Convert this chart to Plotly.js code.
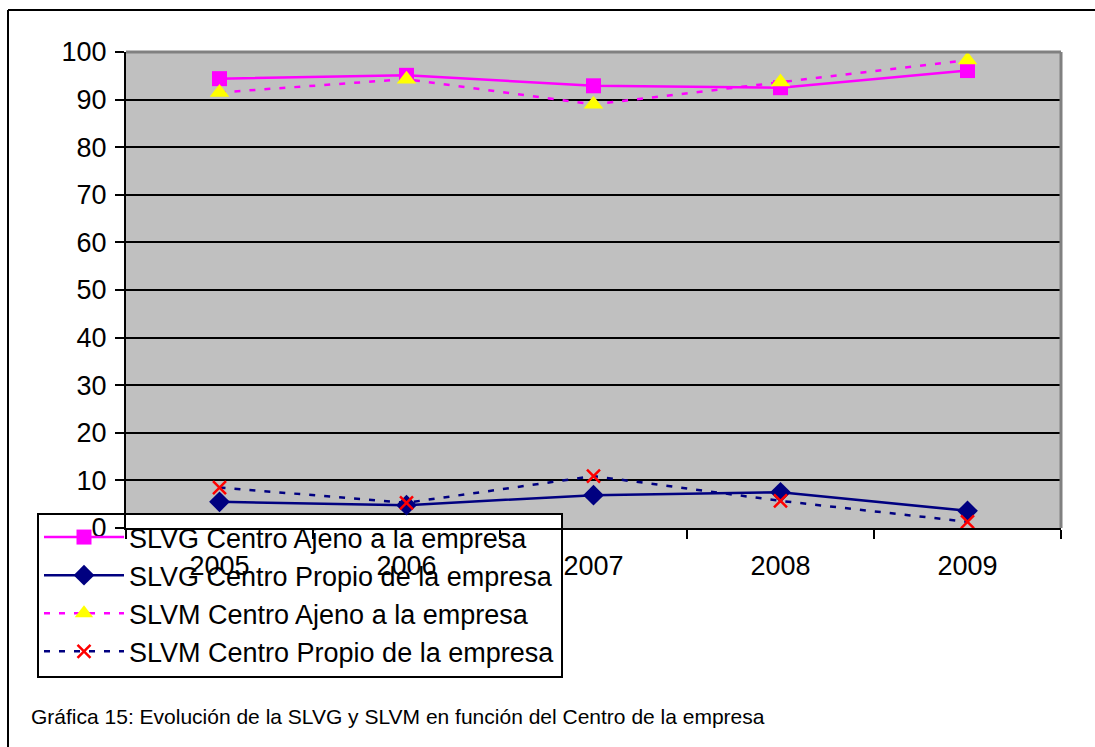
<!DOCTYPE html>
<html>
<head>
<meta charset="utf-8">
<script src="https://cdn.plot.ly/plotly-3.0.1.min.js"></script>
<style>
html,body{margin:0;padding:0;background:#fff;}
#chart{width:1095px;height:747px;}
</style>
</head>
<body>
<div id="chart"></div>
<script>
const years = ['2005', '2006', '2007', '2008', '2009'];
const slvgAjeno = [94.4, 95.1, 92.9, 92.5, 96.1];
const slvgPropio = [5.5, 4.8, 6.9, 7.5, 3.6];
const slvmAjeno = [91.5, 94.3, 89.0, 93.7, 98.3];
const slvmPropio = [8.5, 5.3, 10.9, 5.7, 1.3];
const yTicks = [0, 10, 20, 30, 40, 50, 60, 70, 80, 90, 100];
const caption = 'Gráfica 15: Evolución de la SLVG y SLVM en función del Centro de la empresa';

const FONT = 'Liberation Sans, Arial, sans-serif';
const dash = '6px,9px';

const traces = [
  {x: years, y: slvgAjeno, name: 'SLVG Centro Ajeno a la empresa', mode: 'lines+markers',
   line: {color: '#FF00FF', width: 2.5},
   marker: {symbol: 'square', size: 15, color: '#FF00FF'}, legendgroup: 'a'},
  {x: years, y: slvgPropio, name: 'SLVG Centro Propio de la empresa', mode: 'lines+markers',
   line: {color: '#000080', width: 2.5},
   marker: {symbol: 'diamond', size: 16, color: '#000080'}, legendgroup: 'b'},
  {x: years, y: slvmAjeno, name: 'SLVM Centro Ajeno a la empresa', mode: 'lines+markers',
   line: {color: '#FF00FF', width: 2.5, dash: dash},
   marker: {symbol: 'triangle-up', size: 17, color: '#FFFF00'}, legendgroup: 'c'},
  {x: years, y: slvmPropio, name: 'SLVM Centro Propio de la empresa', mode: 'lines+markers',
   line: {color: '#000080', width: 2.5, dash: dash},
   marker: {symbol: 'x-thin', size: 13, color: '#FF0000', line: {color: '#FF0000', width: 2.5}}, legendgroup: 'd'}
];

const L = 126, R = 1061, T = 52, B = 528;
const W = R - L, H = B - T;
const px = v => (v - L) / W;
const py = v => (B - v) / H;

const layout = {
  width: 1095, height: 747,
  margin: {l: L, r: 1095 - R, t: T, b: 747 - B, pad: 0},
  paper_bgcolor: '#FFFFFF',
  plot_bgcolor: '#C0C0C0',
  font: {family: FONT, color: '#000'},
  showlegend: true,
  xaxis: {
    type: 'category', range: [-0.5, 4.5],
    tickson: 'boundaries', ticks: 'outside', ticklen: 9, tickwidth: 2, tickcolor: '#000',
    showline: true, linecolor: '#000', linewidth: 2,
    showgrid: false, zeroline: false,
    tickfont: {family: FONT, size: 27, color: '#000'},
    ticklabelstandoff: 13
  },
  yaxis: {
    range: [0, 100], tickvals: yTicks, ticktext: yTicks.map(String),
    ticks: 'outside', ticklen: 9, tickwidth: 2, tickcolor: '#000',
    showline: true, linecolor: '#000', linewidth: 2,
    showgrid: true, gridcolor: '#000', gridwidth: 2, zeroline: false,
    tickfont: {family: FONT, size: 27, color: '#000'},
    ticklabelstandoff: 3
  },
  legend: {
    x: px(39), y: py(513), xanchor: 'left', yanchor: 'top',
    bgcolor: 'rgba(0,0,0,0)', borderwidth: 0,
    font: {family: FONT, size: 27, color: '#000'},
    itemwidth: 80, tracegroupgap: 7, traceorder: 'normal'
  },
  shapes: [
    {type: 'rect', layer: 'below', xref: 'paper', yref: 'paper', x0: px(38), x1: px(562), y0: py(514), y1: py(677),
     fillcolor: '#FFFFFF', line: {color: '#000', width: 2}},
    {type: 'line', xref: 'paper', yref: 'paper', x0: 0, x1: 1, y0: 1, y1: 1, line: {color: '#808080', width: 3}},
    {type: 'line', xref: 'paper', yref: 'paper', x0: 1, x1: 1, y0: 0, y1: 1, line: {color: '#808080', width: 3}},
    {type: 'line', xref: 'paper', yref: 'paper', x0: px(8), x1: px(1100), y0: py(10), y1: py(10), line: {color: '#000', width: 2}},
    {type: 'line', xref: 'paper', yref: 'paper', x0: px(8), x1: px(8), y0: py(10), y1: py(760), line: {color: '#000', width: 2}}
  ],
  annotations: [
    {text: caption, xref: 'paper', yref: 'paper', x: px(29), y: py(716), xanchor: 'left', yanchor: 'middle',
     showarrow: false, font: {family: FONT, size: 21, color: '#000'}}
  ]
};

Plotly.newPlot('chart', traces, layout, {displayModeBar: false, staticPlot: true});
</script>
</body>
</html>
